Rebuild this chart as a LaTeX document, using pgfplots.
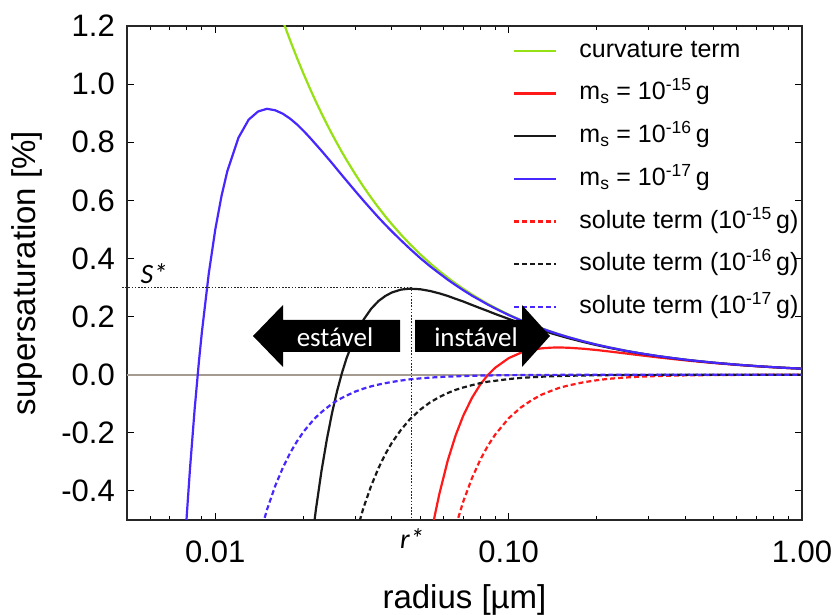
\documentclass[border=0pt]{standalone}
\usepackage{fontspec}
\setmainfont{Liberation Sans}
\newfontfamily\calfont{Carlito}
\usepackage{pgfplots}
\pgfplotsset{compat=1.18}
\definecolor{cgreen}{RGB}{150,225,20}
\definecolor{cred}{RGB}{255,25,25}
\definecolor{cblack}{RGB}{25,25,25}
\definecolor{cblue}{RGB}{70,40,255}
\definecolor{czero}{RGB}{165,155,145}
\begin{document}
\begin{tikzpicture}
\begin{axis}[
  at={(0,0)}, anchor=south west,
  scale only axis, width=675bp, height=494bp,
  xmode=log, xmin=0.005, xmax=1, ymin=-0.5, ymax=1.2,
  xtick={0.01,0.1,1}, xticklabels={0.01,0.10,1.00},
  minor xtick={0.006,0.007,0.008,0.009,0.02,0.03,0.04,0.05,0.06,0.07,0.08,0.09,0.2,0.3,0.4,0.5,0.6,0.7,0.8,0.9},
  ytick={-0.4,-0.2,0,0.2,0.4,0.6,0.8,1.0,1.2},
  yticklabels={-0.4,-0.2,0.0,0.2,0.4,0.6,0.8,1.0,1.2},
  tick align=inside,
  major tick length=7bp, minor tick length=4bp,
  every tick/.style={line width=1bp, black},
  axis line style={line width=1.3bp, black!85},
  xticklabel style={anchor=center, inner sep=0pt, yshift=-32bp, font=\fontsize{31bp}{36bp}\selectfont},
  yticklabel style={anchor=east, inner sep=0pt, xshift=-12bp, font=\fontsize{31bp}{36bp}\selectfont},
  xlabel={radius [µm]},
  ylabel={supersaturation [\%]},
  xlabel style={at={(rel axis cs:0.5,0)}, anchor=center, yshift=-80bp, font=\fontsize{33bp}{38bp}\selectfont},
  ylabel style={at={([xshift=-100bp]rel axis cs:0,0.5)}, anchor=center, font=\fontsize{33bp}{38bp}\selectfont},
  legend style={at={(rel axis cs:0.5719,0.9757)}, anchor=north west, draw=none, fill=none, inner sep=0pt,
    row sep=17.7bp, column sep=22bp, font=\fontsize{25bp}{30bp}\selectfont,
    nodes={inner sep=0pt, text height=19bp, text depth=6bp}},
  legend cell align=left,
  legend image code/.code={\draw[#1] (0bp,0bp) -- (42bp,0bp);},
]
\addplot[czero, line width=2.2bp, forget plot] coordinates {(0.005,0) (1,0)};
% curvature term
\addplot[cgreen, line width=2.2bp] coordinates {
(0.017,1.2176) (0.018,1.15) (0.019,1.0895) (0.02,1.035) (0.021,0.9857) (0.022,0.9409) (0.023,0.9) (0.024,0.8625) (0.025,0.828) (0.026,0.7962) (0.027,0.7667) (0.028,0.7393) (0.03,0.69) (0.032,0.6469) (0.034,0.6088) (0.036,0.575) (0.038,0.5447) (0.04,0.5175) (0.043,0.4814) (0.046,0.45) (0.05,0.414) (0.054,0.3833) (0.058,0.3569) (0.062,0.3339) (0.066,0.3136) (0.07,0.2957) (0.075,0.276) (0.08,0.2588) (0.085,0.2435) (0.09,0.23) (0.1,0.207) (0.11,0.1882) (0.12,0.1725) (0.13,0.1592) (0.14,0.1479) (0.15,0.138) (0.16,0.1294) (0.18,0.115) (0.2,0.1035) (0.22,0.0941) (0.25,0.0828) (0.28,0.0739) (0.32,0.0647) (0.36,0.0575) (0.4,0.0518) (0.45,0.046) (0.5,0.0414) (0.6,0.0345) (0.7,0.0296) (0.8,0.0259) (0.9,0.023) (1.0,0.0207)};
\addlegendentry{curvature term}
% m_s = 1e-15
\addplot[cred, line width=2.2bp] coordinates {
(0.052,-0.669) (0.054,-0.569) (0.056,-0.4845) (0.058,-0.412) (0.062,-0.2955) (0.066,-0.208) (0.07,-0.1416) (0.075,-0.0796) (0.08,-0.034) (0.085,-0.0008) (0.09,0.024) (0.1,0.057) (0.11,0.0755) (0.12,0.0857) (0.13,0.0909) (0.14,0.0932) (0.15,0.0936) (0.16,0.0928) (0.18,0.0893) (0.2,0.0848) (0.22,0.08) (0.25,0.0732) (0.28,0.0671) (0.32,0.0601) (0.36,0.0543) (0.4,0.0494) (0.45,0.0444) (0.5,0.0402) (0.6,0.0338) (0.7,0.0291) (0.8,0.0256) (0.9,0.0228) (1.0,0.0206)};
\addlegendentry{m\textsubscript{s} = 10\textsuperscript{-15}\,g}
% m_s = 1e-16
\addplot[cblack, line width=2.2bp] coordinates {
(0.02,-0.84) (0.021,-0.634) (0.022,-0.468) (0.023,-0.333) (0.024,-0.223) (0.025,-0.132) (0.026,-0.057) (0.027,0.0046) (0.028,0.056) (0.03,0.134) (0.032,0.189) (0.034,0.227) (0.036,0.2535) (0.038,0.271) (0.04,0.283) (0.043,0.293) (0.046,0.296) (0.05,0.294) (0.054,0.288) (0.058,0.28) (0.062,0.271) (0.066,0.261) (0.07,0.252) (0.075,0.24) (0.08,0.229) (0.085,0.219) (0.09,0.209) (0.1,0.192) (0.11,0.177) (0.12,0.1638) (0.13,0.1524) (0.14,0.1424) (0.15,0.1336) (0.16,0.1257) (0.18,0.1124) (0.2,0.1016) (0.22,0.0927) (0.25,0.0818) (0.28,0.0732) (0.32,0.0642) (0.36,0.0572) (0.4,0.0515) (0.45,0.0458) (0.5,0.0413) (0.6,0.0344) (0.7,0.0295) (0.8,0.0258) (0.9,0.023) (1.0,0.0207)};
\addlegendentry{m\textsubscript{s} = 10\textsuperscript{-16}\,g}
% m_s = 1e-17
\addplot[cblue, line width=2.2bp] coordinates {
(0.0075,-0.96) (0.0078,-0.655) (0.008,-0.479) (0.0082,-0.323) (0.0085,-0.121) (0.0088,0.0485) (0.009,0.146) (0.0095,0.348) (0.01,0.5) (0.0105,0.615) (0.011,0.702) (0.012,0.816) (0.013,0.878) (0.014,0.906) (0.015,0.915) (0.016,0.91) (0.017,0.898) (0.018,0.881) (0.019,0.861) (0.02,0.839) (0.021,0.816) (0.022,0.793) (0.023,0.771) (0.024,0.749) (0.025,0.728) (0.026,0.707) (0.027,0.687) (0.028,0.668) (0.03,0.632) (0.032,0.599) (0.034,0.569) (0.036,0.541) (0.038,0.516) (0.04,0.493) (0.043,0.462) (0.046,0.434) (0.05,0.401) (0.054,0.373) (0.058,0.349) (0.062,0.327) (0.066,0.308) (0.07,0.291) (0.075,0.272) (0.08,0.256) (0.085,0.241) (0.09,0.228) (0.1,0.2054) (0.11,0.187) (0.12,0.1716) (0.13,0.1585) (0.14,0.1473) (0.15,0.1375) (0.16,0.129) (0.18,0.1147) (0.2,0.1033) (0.22,0.0939) (0.25,0.0827) (0.28,0.0739) (0.32,0.0647) (0.4,0.0517) (0.5,0.0414) (0.6,0.0345) (0.7,0.0296) (0.8,0.0259) (0.9,0.023) (1.0,0.0207)};
\addlegendentry{m\textsubscript{s} = 10\textsuperscript{-17}\,g}
% solute terms
\addplot[cred, line width=2.2bp, dash pattern=on 5bp off 3bp] coordinates {
(0.064,-0.572) (0.066,-0.522) (0.07,-0.437) (0.075,-0.356) (0.08,-0.293) (0.085,-0.244) (0.09,-0.206) (0.1,-0.15) (0.11,-0.113) (0.12,-0.087) (0.13,-0.068) (0.14,-0.055) (0.15,-0.044) (0.16,-0.037) (0.18,-0.026) (0.2,-0.019) (0.22,-0.014) (0.25,-0.0096) (0.28,-0.0068) (0.32,-0.0046) (0.36,-0.0032) (0.4,-0.0023) (0.5,-0.0012) (0.6,-0.0007) (0.8,-0.0003) (1.0,-0.00015)};
\addlegendentry{solute term (10\textsuperscript{-15}\,g)}
\addplot[cblack, line width=2.2bp, dash pattern=on 5bp off 3bp] coordinates {
(0.03,-0.556) (0.032,-0.458) (0.034,-0.382) (0.036,-0.3215) (0.038,-0.273) (0.04,-0.234) (0.043,-0.189) (0.046,-0.154) (0.05,-0.12) (0.054,-0.095) (0.058,-0.077) (0.062,-0.063) (0.066,-0.052) (0.07,-0.044) (0.075,-0.036) (0.08,-0.029) (0.085,-0.024) (0.09,-0.021) (0.1,-0.015) (0.11,-0.011) (0.12,-0.0087) (0.13,-0.0068) (0.14,-0.0055) (0.15,-0.0044) (0.16,-0.0037) (0.18,-0.0026) (0.2,-0.0019) (0.25,-0.001) (0.3,-0.0006) (0.4,-0.0002) (0.6,-0.0001) (1.0,0)};
\addlegendentry{solute term (10\textsuperscript{-16}\,g)}
\addplot[cblue, line width=2.2bp, dash pattern=on 5bp off 3bp] coordinates {
(0.014,-0.572) (0.015,-0.465) (0.016,-0.383) (0.017,-0.32) (0.018,-0.269) (0.019,-0.229) (0.02,-0.196) (0.021,-0.17) (0.022,-0.147) (0.023,-0.129) (0.024,-0.114) (0.025,-0.1) (0.026,-0.089) (0.027,-0.08) (0.028,-0.072) (0.03,-0.058) (0.032,-0.048) (0.034,-0.04) (0.036,-0.034) (0.038,-0.029) (0.04,-0.025) (0.043,-0.02) (0.046,-0.016) (0.05,-0.0126) (0.054,-0.01) (0.058,-0.008) (0.062,-0.0066) (0.066,-0.0055) (0.07,-0.0046) (0.075,-0.0037) (0.08,-0.0031) (0.09,-0.0022) (0.1,-0.0016) (0.12,-0.0009) (0.15,-0.0005) (0.2,-0.0002) (0.3,-0.0001) (0.5,0) (1.0,0)};
\addlegendentry{solute term (10\textsuperscript{-17}\,g)}
\coordinate (rs) at (axis cs:0.0466,0.3);
\end{axis}
\coordinate (O) at (0,0);
\coordinate (L) at (-5bp,0);
\draw[black!85, line width=1.7bp, dash pattern=on 1.7bp off 1.5bp] (L |- rs) -- (rs) -- (rs |- O);
% arrows
\fill[black] (126bp,184bp) -- (156bp,215bp) -- (156bp,200bp) -- (273bp,200bp) -- (273bp,168bp) -- (156bp,168bp) -- (156bp,153bp) -- cycle;
\fill[black] (288bp,200bp) -- (395bp,200bp) -- (395bp,215bp) -- (423bp,184bp) -- (395bp,153bp) -- (395bp,168bp) -- (288bp,168bp) -- cycle;
\node[white, font=\calfont\fontsize{27bp}{32bp}\selectfont, anchor=center] at (208bp,183bp) {estável};
\node[white, font=\calfont\fontsize{27bp}{32bp}\selectfont, anchor=center] at (349bp,183bp) {instável};
\node[font=\calfont\itshape\fontsize{28bp}{32bp}\selectfont, anchor=center] at (27bp,246bp) {S*};
\node[font=\calfont\itshape\fontsize{28bp}{32bp}\selectfont, anchor=center] at (285bp,-19bp) {r*};
\pgfresetboundingbox
\useasboundingbox (-127bp,-95bp) rectangle (708bp,520bp);
\end{tikzpicture}
\end{document}
